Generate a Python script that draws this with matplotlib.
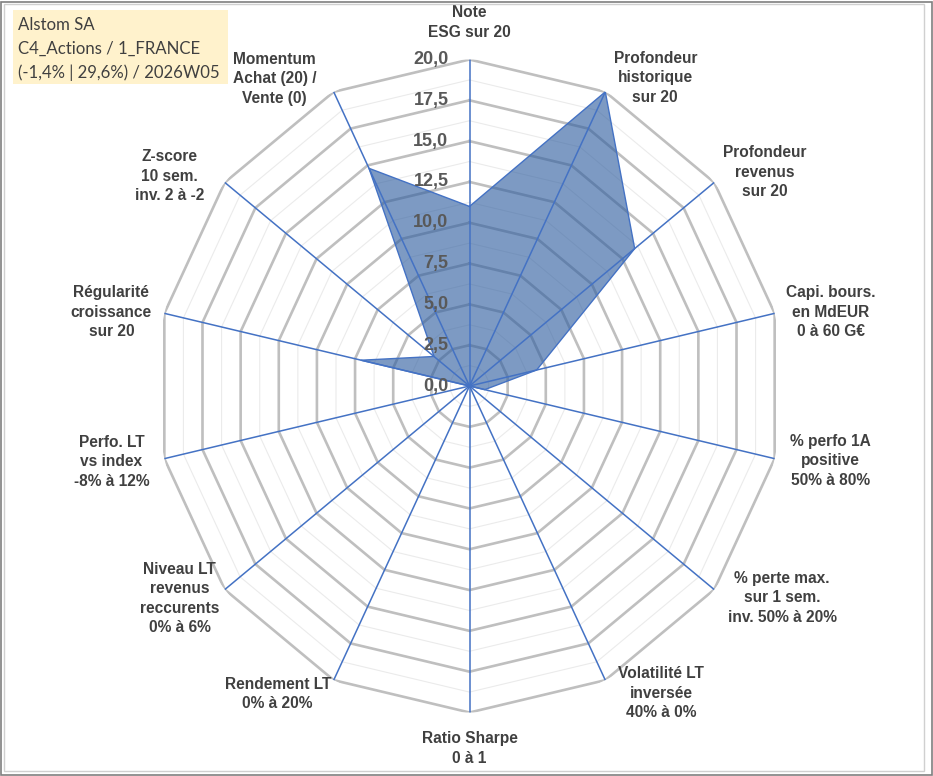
import numpy as np
import matplotlib.pyplot as plt
from matplotlib.patches import Rectangle

# Chart data
categories = [
    "Note\nESG sur 20",
    "Profondeur\nhistorique\nsur 20",
    "Profondeur\nrevenus\nsur 20",
    "Capi. bours.\nen MdEUR\n0 à 60 G€",
    "% perfo 1A\npositive\n50% à 80%",
    "% perte max.\nsur 1 sem.\ninv. 50% à 20%",
    "Volatilité LT\ninversée\n40% à 0%",
    "Ratio Sharpe\n0 à 1",
    "Rendement LT\n0% à 20%",
    "Niveau LT\nrevenus\nreccurents\n0% à 6%",
    "Perfo. LT\nvs index\n-8% à 12%",
    "Régularité\ncroissance\nsur 20",
    "Z-score\n10 sem.\ninv. 2 à -2",
    "Momentum\nAchat (20) /\nVente (0)",
]
values = [11.0, 20.0, 13.5, 4.4, 1.0, 0.0, 0.0, 0.0, 0.0, 0.0, 0.0, 7.1, 2.9, 14.8]
ring_ticks = [0.0, 2.5, 5.0, 7.5, 10.0, 12.5, 15.0, 17.5, 20.0]
title_lines = ["Alstom SA", "C4_Actions / 1_FRANCE", "(-1,4% | 29,6%) / 2026W05"]

# label offsets from the outer vertex, in pixels (x right, y up)
label_offsets = [(0, 37), (50, 14), (51, 10), (56, 1), (56, -2), (68, -8), (56, -13),
                 (0, -36), (-56, -14), (-45, -9), (-53, -3), (-53, 1), (-55, 6), (-59, 13)]

n = len(categories)
theta = np.linspace(0, 2 * np.pi, n, endpoint=False)
theta_c = np.append(theta, theta[0])
vals_c = np.append(values, values[0])

fig = plt.figure(figsize=(9.33, 7.76), dpi=100)
ax = fig.add_axes([(469.5 - 313) / 933, (776 - 386 - 326.5) / 776, 626 / 933, 653 / 776],
                  projection='polar')
ax.set_aspect('auto')
ax.set_theta_zero_location('N')
ax.set_theta_direction(-1)
ax.set_ylim(0, 20)
ax.grid(False)
ax.set_xticks([])
ax.set_yticks([])
ax.spines['polar'].set_visible(False)

# polygon rings: major every 2.5, minor in between
for r in np.arange(1.25, 20.01, 1.25):
    major = abs(r / 2.5 - round(r / 2.5)) < 1e-6
    ax.plot(theta_c, [r] * (n + 1),
            color='#BFBFBF' if major else '#EBEBEB',
            lw=1.9 if major else 0.8, zorder=1, solid_joinstyle='miter')

# filled series
ax.fill(theta_c, vals_c, color='#2E5D9F', alpha=0.62, lw=0, zorder=2)

# spokes
for t in theta:
    ax.plot([t, t], [0, 20], color='#4472C4', lw=1.1, zorder=3)

ax.plot(theta_c, vals_c, color='#4472C4', lw=1.0, zorder=4)

# radial tick labels
for v in ring_ticks:
    ax.annotate(f"{v:.1f}".replace('.', ','), xy=(0, v), xytext=(-21, 0),
                textcoords='offset pixels', ha='right', va='center',
                fontsize=13, fontweight='bold', color='#595959',
                family='Liberation Sans', zorder=5)

# category labels
for t, lab, off in zip(theta, categories, label_offsets):
    ax.annotate(lab, xy=(t, 20), xytext=off, textcoords='offset pixels',
                ha='center', va='center', multialignment='center',
                fontsize=11.2, fontweight='bold', color='#404040',
                family='Liberation Sans', linespacing=1.38,
                annotation_clip=False)

# title box
fig.patches.append(Rectangle((13 / 933, 1 - 84 / 776), 215 / 933, 74 / 776,
                             transform=fig.transFigure, facecolor='#FFF2CC',
                             edgecolor='none', zorder=0))
for i, line in enumerate(title_lines):
    fig.text(18 / 933, 1 - (25 + 24 * i) / 776, line, ha='left', va='center',
             fontsize=12.1, color='#404040', family='Lato')

# outer frame
fig.patches.append(Rectangle((4 / 933, 1 - 771 / 776), 920 / 933, 767 / 776,
                             transform=fig.transFigure, fill=False,
                             edgecolor='#D0D0D0', lw=1))
fig.patches.append(Rectangle((0.5 / 933, 1.5 / 776), 931 / 933, 773 / 776,
                             transform=fig.transFigure, fill=False,
                             edgecolor='#7F7F7F', lw=1.2))

fig.savefig("out.png", dpi=100)
